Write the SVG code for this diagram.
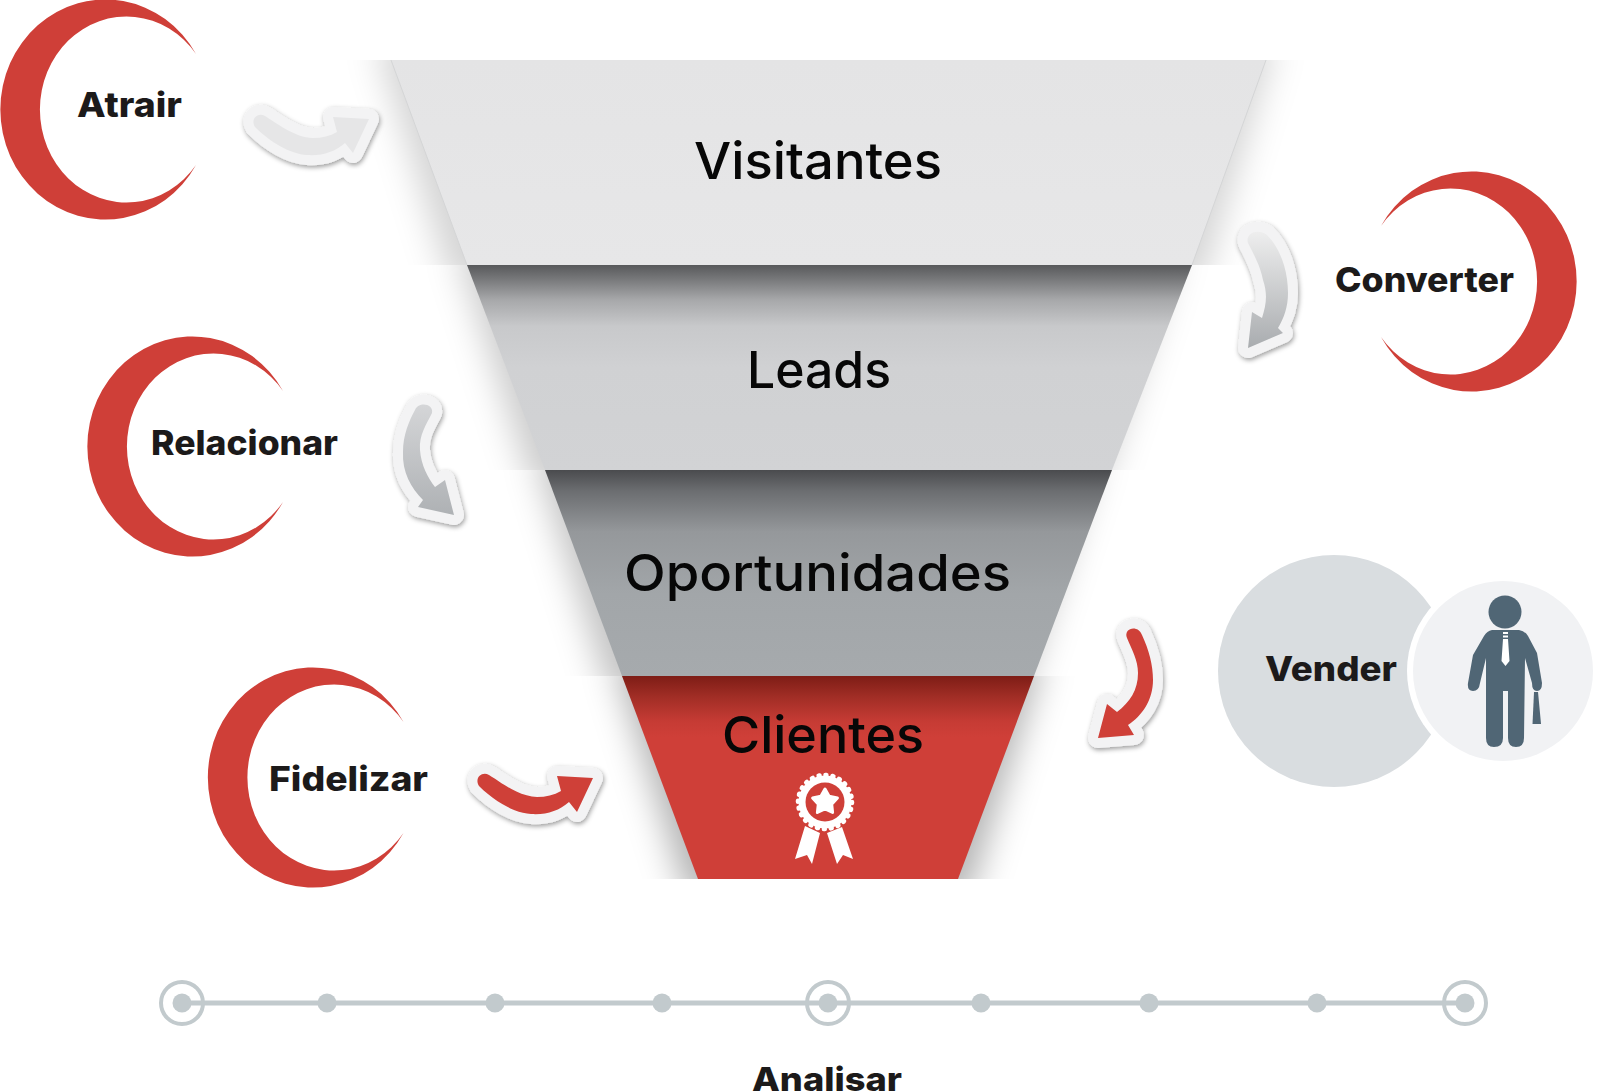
<svg xmlns="http://www.w3.org/2000/svg" xmlns:xlink="http://www.w3.org/1999/xlink" width="1600" height="1092" viewBox="0 0 1600 1092">
<style>
.lbl{font-family:"Inter","Liberation Sans",sans-serif;font-weight:800;font-size:34px;fill:#1c1a1a}
.fn{font-family:"Inter","Liberation Sans",sans-serif;font-weight:500;font-size:51px;fill:#070707}
.cres{fill:#CF3F38}
.arr{stroke:#F3F3F4;stroke-width:20;stroke-linejoin:round;paint-order:stroke;filter:url(#ds)}
.tl{fill:#C2CACD}
.edge{stroke:#d4d5d6;stroke-width:1;fill:none}
</style>
<defs>
<filter id="bl" filterUnits="userSpaceOnUse" x="200" y="-100" width="1250" height="1150"><feGaussianBlur stdDeviation="17"/></filter>
<filter id="ds" filterUnits="userSpaceOnUse" x="0" y="0" width="1600" height="1092"><feDropShadow dx="1" dy="2" stdDeviation="2.5" flood-color="#000" flood-opacity=".4"/></filter>
<linearGradient id="g1" gradientUnits="userSpaceOnUse" x1="0" y1="60" x2="0" y2="265"><stop offset="0" stop-color="#E4E4E5"/><stop offset="1" stop-color="#E7E7E8"/></linearGradient>
<linearGradient id="g2" gradientUnits="userSpaceOnUse" x1="0" y1="265" x2="0" y2="470"><stop offset="0" stop-color="#58595B"/><stop offset=".06" stop-color="#737476"/><stop offset=".17" stop-color="#A7A8AA"/><stop offset=".3" stop-color="#C8C9CB"/><stop offset=".5" stop-color="#D0D1D3"/><stop offset="1" stop-color="#D2D3D5"/></linearGradient>
<linearGradient id="g3" gradientUnits="userSpaceOnUse" x1="0" y1="470" x2="0" y2="676"><stop offset="0" stop-color="#4A4B4E"/><stop offset=".1" stop-color="#6B6D70"/><stop offset=".3" stop-color="#95989B"/><stop offset=".6" stop-color="#A2A6A9"/><stop offset="1" stop-color="#A6AAAD"/></linearGradient>
<linearGradient id="g4" gradientUnits="userSpaceOnUse" x1="0" y1="676" x2="0" y2="879"><stop offset="0" stop-color="#7E1D16"/><stop offset=".1" stop-color="#A02D25"/><stop offset=".22" stop-color="#C53B34"/><stop offset=".3" stop-color="#CF3F38"/><stop offset="1" stop-color="#CF3F38"/></linearGradient>
<linearGradient id="ga3" gradientUnits="userSpaceOnUse" x1="0" y1="228" x2="0" y2="348"><stop offset="0" stop-color="#F0F0F0"/><stop offset="1" stop-color="#A9ACAF"/></linearGradient>
<linearGradient id="ga4" gradientUnits="userSpaceOnUse" x1="0" y1="403" x2="0" y2="515"><stop offset="0" stop-color="#D5D6D8"/><stop offset="1" stop-color="#AEB1B4"/></linearGradient>
<clipPath id="c1"><rect x="0" y="60" width="1600" height="205"/></clipPath>
<clipPath id="c2"><rect x="0" y="265" width="1600" height="205"/></clipPath>
<clipPath id="c3"><rect x="0" y="470" width="1600" height="206"/></clipPath>
<clipPath id="c4"><rect x="0" y="676" width="1600" height="203"/></clipPath>
<path id="crescent" class="cres" d="M196,54 A105 110 0 1 0 196,165 A86.6 93 0 1 1 196,54 Z"/>
</defs>
<rect width="1600" height="1092" fill="#fff"/>

<g id="funnel-shadows">
<g clip-path="url(#c1)"><polygon points="375,40 1276,40 1202,285 451,285" fill="#000" fill-opacity=".17" filter="url(#bl)"/></g>
<g clip-path="url(#c2)"><polygon points="455,245 1180,245 1100,490 533,490" fill="#000" fill-opacity=".2" filter="url(#bl)"/></g>
<g clip-path="url(#c3)"><polygon points="533,450 1100,450 1022,696 610,696" fill="#000" fill-opacity=".24" filter="url(#bl)"/></g>
<g clip-path="url(#c4)"><polygon points="612,656 1044,656 968,899 688,899" fill="#000" fill-opacity=".3" filter="url(#bl)"/></g>
</g>

<g id="visitantes">
<polygon points="391,60 1266,60 1192,265 467,265" fill="url(#g1)"/>
<path class="edge" d="M391,60 L467,265 M1266,60 L1192,265"/>
<text class="fn" x="694" y="179" textLength="248" lengthAdjust="spacingAndGlyphs">Visitantes</text>
</g>
<g id="leads">
<polygon points="467,265 1192,265 1112,470 545,470" fill="url(#g2)"/>
<text class="fn" x="747" y="388" textLength="144" lengthAdjust="spacingAndGlyphs">Leads</text>
</g>
<g id="oportunidades">
<polygon points="545,470 1112,470 1034,676 622,676" fill="url(#g3)"/>
<text class="fn" x="624" y="591" textLength="387" lengthAdjust="spacingAndGlyphs">Oportunidades</text>
</g>
<g id="clientes">
<polygon points="622,676 1034,676 958,879 698,879" fill="url(#g4)"/>
<text class="fn" x="722" y="753" textLength="202" lengthAdjust="spacingAndGlyphs">Clientes</text>
<g id="ribbon" fill="#fff">
<polygon points="805,826 820,833 812,864 807,855 795,859"/>
<polygon points="827,833 842,827 853,859 843,855 837,864"/>
<circle cx="825" cy="802" r="26.5"/>
<circle cx="825" cy="802" r="27" fill="none" stroke="#fff" stroke-width="4.5" stroke-linecap="round" stroke-dasharray="1 6.07"/>
<circle cx="825" cy="802" r="19.5" fill="#CF3F38"/>
<polygon points="825,789 829.1,796.3 837.4,798 831.7,804.2 832.6,812.5 825,809 817.4,812.5 818.3,804.2 812.6,798 820.9,796.3" fill="#fff" stroke="#fff" stroke-width="3" stroke-linejoin="round"/>
</g>
</g>

<g id="connectors">
<path id="arrow-atrair" class="arr" fill="#E6E6E7" d="M255,127 C250,119 258,112 265,116 C275,122 295,138 313,138 C322,138 330,136 337,132 L333,117 L369,119 L353,153 L345,143 C335,152 322,156 307,155 C290,154 270,142 255,127 Z"/>
<path id="arrow-fidelizar" class="arr" fill="#CF3F38" transform="translate(224,659)" d="M255,127 C250,119 258,112 265,116 C275,122 295,138 313,138 C322,138 330,136 337,132 L333,117 L369,119 L353,153 L345,143 C335,152 322,156 307,155 C290,154 270,142 255,127 Z"/>
<path id="arrow-converter" class="arr" fill="url(#ga3)" d="M1248,243 C1245,233 1258,228 1267,235 C1280,248 1288,270 1288,293 C1288,307 1284,318 1278,328 L1283,333 L1248,348 L1252,312 L1262,318 C1266,305 1268,295 1263,280 C1260,265 1254,255 1248,243 Z"/>
<path id="arrow-relacionar" class="arr" fill="url(#ga4)" d="M415,410 C419,401 434,404 432,413 C426,425 419,435 420,450 C421,465 428,478 435,487 L445,480 L454,515 L418,507 L423,500 C411,488 402,472 403,452 C403,435 409,421 415,410 Z"/>
<path id="arrow-vender" class="arr" fill="#CF3F38" d="M1127,638 C1123,628 1138,624 1142,635 C1149,650 1153,665 1153,680 C1153,700 1142,716 1128,725 L1134,735 L1098,738 L1107,704 L1117,712 C1130,702 1138,690 1138,673 C1138,660 1132,650 1127,638 Z"/>
<g id="timeline-line"><rect x="182" y="1000.5" width="1283" height="5" class="tl"/></g>
</g>

<g id="atrair">
<use xlink:href="#crescent" href="#crescent"/>
<text class="lbl" x="77" y="117" textLength="105" lengthAdjust="spacingAndGlyphs">Atrair</text>
</g>
<g id="relacionar">
<use xlink:href="#crescent" href="#crescent" transform="translate(87,337)"/>
<text class="lbl" x="151" y="455" textLength="187" lengthAdjust="spacingAndGlyphs">Relacionar</text>
</g>
<g id="fidelizar">
<use xlink:href="#crescent" href="#crescent" transform="translate(207.5,668)"/>
<text class="lbl" x="269" y="791" textLength="159" lengthAdjust="spacingAndGlyphs">Fidelizar</text>
</g>
<g id="converter">
<use xlink:href="#crescent" href="#crescent" transform="translate(1577,172) scale(-1,1)"/>
<text class="lbl" x="1335" y="292" textLength="179" lengthAdjust="spacingAndGlyphs">Converter</text>
</g>

<g id="vender">
<circle cx="1334" cy="671" r="116" fill="#D9DDE0"/>
<circle cx="1503" cy="671" r="96" fill="#fff"/>
<circle cx="1503" cy="671" r="90" fill="#F1F2F4"/>
<text class="lbl" x="1265" y="681" textLength="132" lengthAdjust="spacingAndGlyphs">Vender</text>
<g id="man" fill="#506675">
<circle cx="1505" cy="612" r="16.5"/>
<path d="M1492,630 L1519,630 Q1525,631 1528,636 L1537,653 L1542,683 Q1542,691 1537,691 Q1532,691 1532,683 L1525,658 L1524,738 Q1524,747 1516,747 Q1508,747 1508,738 L1508,691 L1503,691 L1503,738 Q1503,747 1494,747 Q1486,747 1486,738 L1486,658 L1480,683 Q1479,691 1473,691 Q1467,691 1468,683 L1473,655 L1484,636 Q1487,631 1492,630 Z"/>
<path d="M1534,692 L1538,692 L1541,724 L1532.5,724 Z"/>
<path fill="#fff" d="M1503,632 L1508,632 L1508,634 L1503,634 Z M1503,635.5 L1508,635.5 L1508,637.5 L1503,637.5 Z M1503,639 L1508,639 L1509.5,661 L1505.5,666 L1501.5,661 Z"/>
</g>
</g>

<g id="timeline">
<g class="tl">
<circle cx="327" cy="1003" r="9.5"/><circle cx="495" cy="1003" r="9.5"/><circle cx="662" cy="1003" r="9.5"/>
<circle cx="981" cy="1003" r="9.5"/><circle cx="1149" cy="1003" r="9.5"/><circle cx="1317" cy="1003" r="9.5"/>
<circle cx="182" cy="1003" r="9.5"/><circle cx="828" cy="1003" r="9.5"/><circle cx="1465" cy="1003" r="9.5"/>
</g>
<g fill="none" stroke="#C2CACD" stroke-width="4">
<circle cx="182" cy="1003" r="21"/><circle cx="828" cy="1003" r="21"/><circle cx="1465" cy="1003" r="21"/>
</g>
<text class="lbl" x="752" y="1091" style="font-size:33px" textLength="150" lengthAdjust="spacingAndGlyphs">Analisar</text>
</g>
</svg>
